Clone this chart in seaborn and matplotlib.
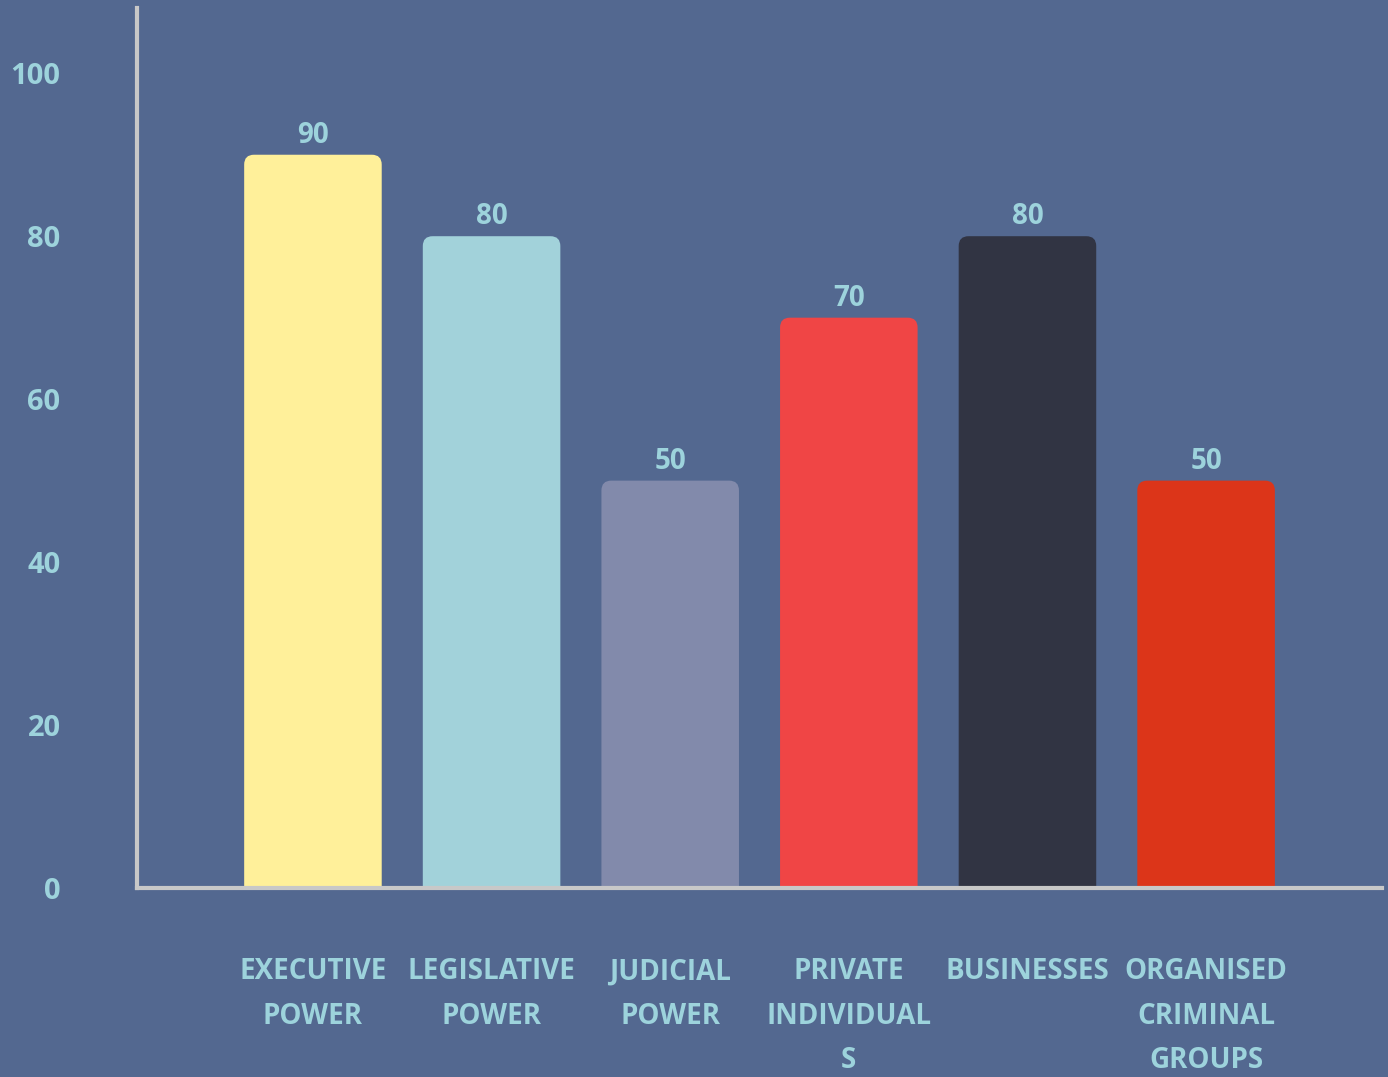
import matplotlib
matplotlib.use("Agg")
import matplotlib.pyplot as plt
import seaborn as sns
import pandas as pd
from matplotlib.patches import FancyBboxPatch

categories = ["Executive Power", "Legislative Power", "Judicial Power",
              "Private Individuals", "Businesses", "Organised Criminal Groups"]
tick_labels = ["EXECUTIVE\nPOWER", "LEGISLATIVE\nPOWER", "JUDICIAL\nPOWER",
               "PRIVATE\nINDIVIDUAL\nS", "BUSINESSES", "ORGANISED\nCRIMINAL\nGROUPS"]
values = [90, 80, 50, 70, 80, 50]
colors = ["#FFF09A", "#A2D2DA", "#828AAB", "#F04545", "#313443", "#DC3519"]
y_ticks = [0, 20, 40, 60, 80, 100]

bg = "#536890"
txt = "#9DD3DC"
spine = "#C8C8C8"

sns.set_style("white")
plt.rcParams["font.family"] = ["Open Sans", "DejaVu Sans"]

df = pd.DataFrame({"cat": categories, "val": values})

fig = plt.figure(figsize=(13.88, 10.77), dpi=100, facecolor=bg)
ax = fig.add_axes([0.0987, 0.1755, 0.897, 0.817])
ax.set_facecolor(bg)

sns.barplot(data=df, x="cat", y="val", hue="cat", palette=colors,
            width=0.77, legend=False, ax=ax, saturation=1)

ax.set_xlim(-0.985, 5.985)
ax.set_ylim(0, 108)

# round the top corners of each bar
for p in list(ax.patches):
    x0, w, h = p.get_x(), p.get_width(), p.get_height()
    fc = p.get_facecolor()
    p.set_visible(False)
    rb = FancyBboxPatch((x0, -3), w, h + 3,
                        boxstyle="round,pad=0,rounding_size=0.055",
                        mutation_aspect=22, fc=fc, ec="none", zorder=2)
    ax.add_patch(rb)
    ax.text(x0 + w / 2, h + 0.6, f"{h:.0f}", ha="center", va="bottom",
            color=txt, fontsize=20, fontweight="bold")

ax.set_yticks(y_ticks)
ax.set_yticklabels([str(t) for t in y_ticks])
ax.set_xticks(range(len(categories)))
ax.set_xticklabels(tick_labels, linespacing=1.7)
ax.tick_params(axis="y", length=0, pad=55, labelsize=21, labelcolor=txt)
ax.tick_params(axis="x", length=0, pad=50, labelsize=20, labelcolor=txt)
for lab in ax.get_yticklabels() + ax.get_xticklabels():
    lab.set_fontweight("bold")

ax.set_xlabel("")
ax.set_ylabel("")
for s in ["top", "right"]:
    ax.spines[s].set_visible(False)
for s in ["left", "bottom"]:
    ax.spines[s].set_color(spine)
    ax.spines[s].set_linewidth(3)
    ax.spines[s].set_zorder(3)

fig.savefig("out.png", dpi=100, facecolor=bg)
